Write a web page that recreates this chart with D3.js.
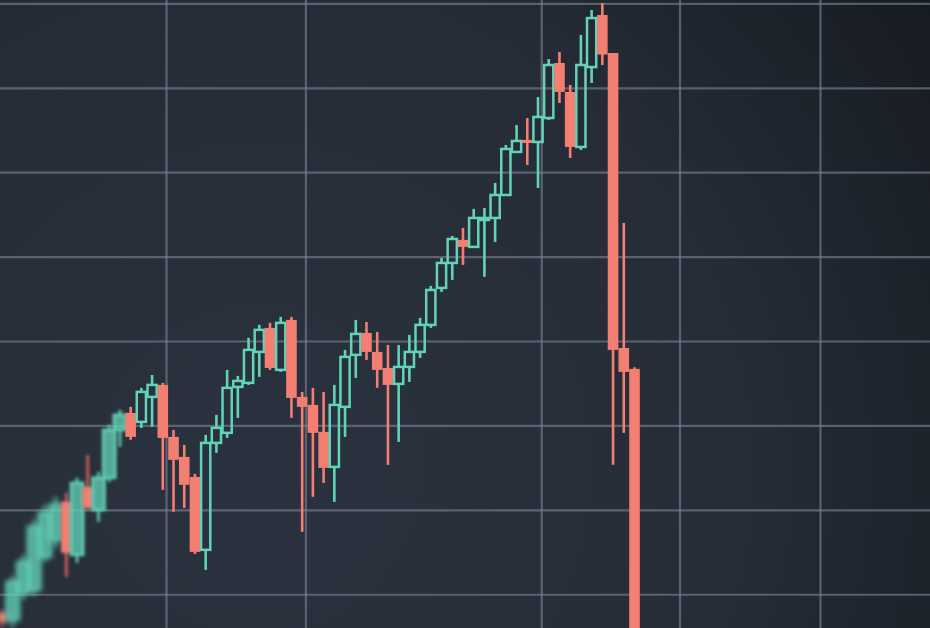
<!DOCTYPE html>
<html>
<head>
<meta charset="utf-8">
<script src="https://cdn.jsdelivr.net/npm/d3@7"></script>
<style>
  html, body { margin: 0; padding: 0; background: #20262f; overflow: hidden; }
  #chart { width: 930px; height: 628px; }
</style>
</head>
<body>
<div id="chart"></div>
<script>
// candle series (index = bar number)
const opens  = [97.8, 96.97, 100.17, 100.52, 104.43, 106.44, 110.94, 104.67, 112.72, 110.0,
                113.79, 119.47, 121.48, 120.42, 123.38, 124.8, 118.64, 116.27, 113.9, 105.26,
                117.93, 119.12, 124.56, 125.04, 128.71, 131.55, 126.58, 132.5, 123.38, 122.43,
                119.24, 115.09, 122.2, 128.36, 130.96, 128.71, 126.81, 124.92, 126.93, 128.71,
                131.91, 136.29, 139.25, 141.98, 141.15, 144.34, 144.58, 147.3, 152.4, 153.82,
                153.58, 156.42, 162.94, 159.51, 152.99, 162.46, 168.62, 164.12, 129.18, 126.7];
const highs  = [98.15, 102.18, 104.67, 108.81, 110.59, 111.54, 112.01, 113.79, 116.51, 114.5,
                120.06, 121.84, 122.2, 124.45, 125.98, 125.04, 119.47, 117.69, 114.26, 118.88,
                121.25, 126.58, 125.87, 130.37, 131.91, 132.15, 132.86, 132.86, 123.97, 124.45,
                123.97, 124.8, 128.95, 132.5, 132.26, 131.08, 129.53, 129.53, 130.72, 132.74,
                136.53, 139.84, 142.45, 143.4, 145.65, 145.76, 148.73, 153.23, 155.59, 156.42,
                158.91, 163.41, 164.24, 160.34, 166.26, 169.22, 170.05, 164.12, 143.99, 126.9];
const lows   = [96.02, 96.02, 99.34, 99.81, 103.84, 105.5, 102.06, 103.72, 110.0, 108.58,
                113.31, 117.46, 118.29, 119.71, 119.83, 112.37, 109.76, 110.23, 104.78, 102.89,
                116.75, 118.52, 120.89, 124.8, 125.75, 126.58, 126.34, 120.89, 107.39, 111.54,
                113.19, 110.94, 118.64, 125.63, 127.76, 124.45, 115.33, 118.05, 125.16, 128.0,
                131.55, 135.82, 137.24, 139.02, 141.03, 137.6, 141.74, 147.19, 152.28, 150.86,
                148.13, 156.19, 158.2, 151.69, 152.64, 160.57, 162.7, 115.33, 119.12, 89.0];
const closes = [96.73, 101.47, 103.84, 107.98, 109.64, 110.59, 104.9, 113.19, 110.23, 113.79,
                119.47, 121.25, 118.64, 123.97, 124.8, 118.52, 115.92, 112.96, 105.02, 117.93,
                119.71, 124.45, 125.27, 128.95, 131.32, 126.81, 132.15, 123.26, 122.2, 119.12,
                114.97, 122.43, 128.12, 130.84, 128.71, 126.58, 124.8, 126.93, 128.71, 131.91,
                136.05, 139.25, 142.09, 141.15, 144.58, 144.58, 147.3, 152.75, 153.7, 153.46,
                156.54, 162.7, 159.51, 152.99, 162.7, 168.26, 163.94, 128.95, 126.34, 90.0];

// grid positions
const priceGrid = [100, 110, 120, 130, 140, 150, 160, 170];
const timeGrid = [15.3, 28.3, 50.3, 63.2, 76.3];

const width = 930, height = 628;
const green = '#63d3b8', red = '#f27f72';

const candles = opens.map((o, i) => ({
  i, o, h: highs[i], l: lows[i], c: closes[i], up: closes[i] >= o
}));

const x = d3.scaleLinear().domain([0, 59]).range([2, 634.5]);
const y = d3.scaleLinear().domain([96, 170.4]).range([height, 0]);

const svg = d3.select('#chart').append('svg')
  .attr('width', width)
  .attr('height', height)
  .attr('viewBox', `0 0 ${width} ${height}`);

const defs = svg.append('defs');

// background: lighter lower-left, dark towards the top right
const bg = defs.append('radialGradient')
  .attr('id', 'bg')
  .attr('gradientUnits', 'userSpaceOnUse')
  .attr('cx', 260).attr('cy', 470).attr('r', 900);
bg.append('stop').attr('offset', '0%').attr('stop-color', '#2a323f');
bg.append('stop').attr('offset', '55%').attr('stop-color', '#252c37');
bg.append('stop').attr('offset', '100%').attr('stop-color', '#13171c');

// focus blur for the bars on the left edge
[['blur2', 2.4], ['blur1', 1.4], ['blur0', 0.55]].forEach(([id, s]) => {
  defs.append('filter').attr('id', id)
    .attr('x', '-50%').attr('y', '-10%').attr('width', '200%').attr('height', '120%')
    .append('feGaussianBlur').attr('stdDeviation', s);
});

svg.append('rect')
  .attr('width', width)
  .attr('height', height)
  .attr('fill', 'url(#bg)');

// grid lines
const grid = svg.append('g').attr('filter', 'url(#blur0)');

grid.append('g')
  .attr('transform', `translate(0,${height})`)
  .call(d3.axisBottom(x).tickValues(timeGrid).tickSize(-height).tickFormat(''))
  .call(g => g.select('.domain').remove());

grid.append('g')
  .call(d3.axisLeft(y).tickValues(priceGrid).tickSize(-width).tickFormat(''))
  .call(g => g.select('.domain').remove());

grid.selectAll('.tick line')
  .attr('stroke', '#7a8394')
  .attr('stroke-opacity', 0.62)
  .attr('stroke-width', 2.2);

// candles
const bodyW = 9.2;

const blurFor = i => i < 6 ? 'url(#blur2)' : i < 12 ? 'url(#blur1)' : 'url(#blur0)';

const bar = svg.append('g')
  .selectAll('g')
  .data(candles)
  .join('g')
  .attr('filter', d => blurFor(d.i));

// red: one wick through a filled body
bar.filter(d => !d.up).append('line')
  .attr('x1', d => x(d.i)).attr('x2', d => x(d.i))
  .attr('y1', d => y(d.h)).attr('y2', d => y(d.l))
  .attr('stroke', d => d.i < 12 ? '#d8645d' : red)
  .attr('stroke-width', 2.6);

bar.filter(d => !d.up).append('rect')
  .attr('x', d => x(d.i) - bodyW / 2 - 0.7)
  .attr('width', bodyW + 1.4)
  .attr('y', d => y(d.o))
  .attr('height', d => Math.max(2.5, y(d.c) - y(d.o)))
  .attr('fill', red);

// green: hollow body with wicks above and below
bar.filter(d => d.up).append('line')
  .attr('x1', d => x(d.i)).attr('x2', d => x(d.i))
  .attr('y1', d => y(d.h)).attr('y2', d => y(d.c))
  .attr('stroke', green)
  .attr('stroke-width', 2.6);

bar.filter(d => d.up).append('line')
  .attr('x1', d => x(d.i)).attr('x2', d => x(d.i))
  .attr('y1', d => y(d.o)).attr('y2', d => y(d.l))
  .attr('stroke', green)
  .attr('stroke-width', 2.6);

bar.filter(d => d.up).append('rect')
  .attr('x', d => x(d.i) - bodyW / 2 - (d.i < 12 ? 1.5 : 0))
  .attr('width', d => bodyW + (d.i < 12 ? 3 : 0))
  .attr('y', d => y(d.c))
  .attr('height', d => Math.max(1.5, y(d.o) - y(d.c)))
  .attr('fill', d => d.i < 12 ? green : 'none')
  .attr('fill-opacity', d => d.i < 12 ? 0.75 : 0)
  .attr('stroke', green)
  .attr('stroke-width', 2.5);
</script>
</body>
</html>
